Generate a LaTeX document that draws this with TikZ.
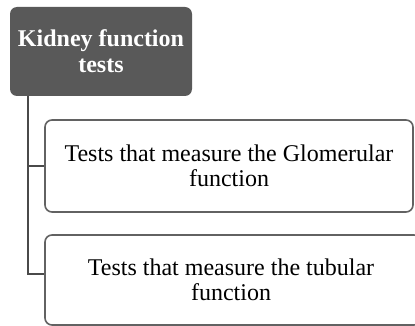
\documentclass[tikz,border=0pt]{standalone}
\usepackage{fontspec}
\setmainfont{Liberation Serif}
\definecolor{rootfill}{HTML}{595959}
\definecolor{boxline}{HTML}{626262}
\definecolor{connline}{HTML}{4A4A4A}
\tikzset{
  rootbox/.style={draw=none, fill=rootfill, rounded corners=7pt, text=white, align=center,
    font=\fontsize{24}{26}\selectfont\bfseries, inner sep=0pt},
  childbox/.style={draw=boxline, line width=1.6pt, fill=white, rounded corners=7pt, align=center,
    font=\fontsize{24}{25}\selectfont, inner sep=0pt},
  conn/.style={draw=connline, line width=2pt}
}
\begin{document}
\begin{tikzpicture}[x=1pt,y=-1pt]
\useasboundingbox (0,0) rectangle (415,326);
\clip (0,0) rectangle (415,326);
\node[rootbox, minimum width=182pt, minimum height=89pt] (root) at (101,51.5) {Kidney function\\tests};
\node[childbox, minimum width=368pt, minimum height=92pt] (b1) at (229,166) {Tests that measure the Glomerular\\function};
\node[childbox, minimum width=376pt, minimum height=90pt] (b2) at (233,280) {\hspace*{-4pt}Tests that measure the tubular\\\hspace*{-4pt}function};
\coordinate (trunk) at ([xshift=18pt]root.south west);
\coordinate (b2in) at ([yshift=6pt]b2.west);
\draw[conn] (trunk) |- (b1.west);
\draw[conn] (trunk) |- (b2in);
\end{tikzpicture}
\end{document}
